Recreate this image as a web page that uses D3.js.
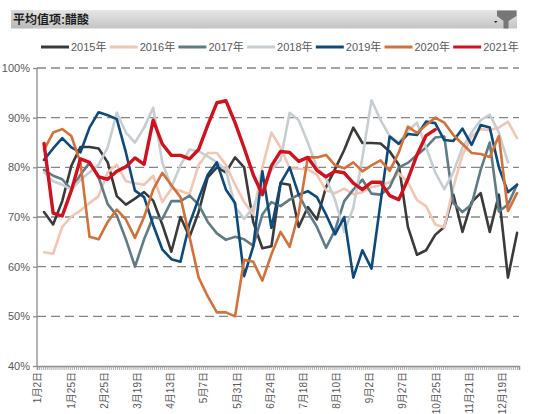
<!DOCTYPE html>
<html>
<head>
<meta charset="utf-8">
<script src="https://cdn.jsdelivr.net/npm/d3@7"></script>
<style>
body { margin: 0; background: #fff; }
svg text { font-family: "Liberation Sans", "Noto Sans CJK SC", sans-serif; }
</style>
</head>
<body>
<svg width="550" height="414"></svg>
<script>
var title = "平均值项:醋酸";
var years = ["2015年", "2016年", "2017年", "2018年", "2019年", "2020年", "2021年"];
var colors = ["#3a3a3a", "#f2c6b3", "#5f7b85", "#c6ced1", "#0c4a7c", "#d4703a", "#d0121e"];
var tickLabels = ["1月2日", "1月25日", "2月25日", "3月19日", "4月13日", "5月7日", "5月31日", "6月24日",
    "7月18日", "8月10日", "9月2日", "9月27日", "10月25日", "11月21日", "12月19日"];
var categoryCount = 247;   // trading days on the category axis
var labelStep = 17;        // one label every 17 categories

// weekly values, %
var s2015 = [71, 68.5, 73.2, 80.3, 84.1, 84.1, 83.8, 81, 74.2, 72.5, 73.7, 75, 73.3,
    68.5, 63, 70, 66, 71, 78, 80, 79, 82, 80, 69, 63.7, 64.1,
    76.8, 76.5, 68, 72, 69.5, 76, 79.7, 83.5, 88, 84.9, 84.9, 84.8, 83.2,
    80.5, 68, 62.4, 63.3, 66.4, 68, 74.5, 67, 73, 74.8, 67, 74.5, 57.8, 66.8];
var s2016 = [62.9, 62.6, 68, 70.1, 71.3, 72.8, 74.2, 79, 80.5, 77.2, 76.8, 76.5, 78.3,
    73, 75.7, 75.3, 74.6, 80.5, 82.9, 82.9, 80.5, 76.5, 73, 70.5, 80, 87,
    84, 79.8, 79.7, 79.6, 78.5, 75.4, 74.8, 75.7, 74.6, 75, 76, 76.4, 77,
    78.8, 77, 73.4, 72.2, 68.5, 67.9, 76, 82.5, 86.2, 87.7, 87.5, 88, 89.2, 85.9];
var s2017 = [79.5, 78.3, 77.6, 75.5, 78.5, 80.9, 78, 72.6, 70.3, 65.5, 60, 65.5, 70,
    69.6, 73.2, 73.2, 74.3, 72.5, 69, 66.7, 65.4, 66, 65.5, 64.2, 70.5, 73,
    72.2, 73.5, 74.5, 71, 68, 63.8, 67.4, 73.2, 75.5, 77.5, 74.7, 74.5, 76,
    80, 80.9, 82.5, 84, 86, 86.2, 72.8, 71, 72.5, 79.5, 85, 71.1, 72.5, 76.5];
var s2018 = [79, 77.2, 76.5, 75.5, 77.5, 79, 80.5, 84, 91, 87, 85, 88, 92,
    81, 76, 80.4, 83.6, 83.2, 82.2, 81, 79.5, 72.1, 69.6, 72, 76, 79.5,
    81.5, 91, 89.5, 85, 80, 77.8, 73.4, 67, 71.8, 82, 93.5, 89.5, 86.3,
    85, 87.3, 89, 84, 79, 75.6, 79, 84, 87, 89.5, 90.6, 87, 81];
var s2019 = [81.5, 83.8, 85.9, 84, 83, 88, 91.1, 90.5, 89.7, 83, 75.3, 74, 68.4,
    63.5, 61.5, 61, 68.7, 73.7, 78.5, 81, 75.5, 72.8, 58.1, 64.1, 79.2, 67.8,
    76.8, 80, 74.5, 75.2, 74, 70.5, 66.5, 70, 57.8, 63.3, 59.6, 73, 86.2,
    84.7, 86.7, 86.5, 89.2, 88.9, 85.5, 85.3, 87.8, 84.5, 88.5, 88, 80, 75, 76.5];
var s2020 = [83.5, 87, 87.7, 86.3, 81, 66, 65.5, 69, 71.5, 69.5, 65.8, 70, 75.5,
    78.9, 76.4, 74, 66, 57.8, 54, 50.8, 50.8, 50, 61.4, 61, 57.2, 62.5,
    67, 64, 70.8, 82, 82, 82.5, 80.4, 79.8, 81, 79.2, 80.4, 81.4, 79.3,
    83, 88.2, 86.9, 88.5, 90, 89, 86.5, 84.7, 82.9, 82.7, 82.1, 86.3, 71.2, 74.8];
var s2021 = [84.8, 70.8, 70.2, 75.3, 81.7, 81, 78.1, 77.6, 79.2, 80.1, 81.9, 80.6, 89.5,
    84.7, 82.4, 82.4, 81.7, 83.6, 88.5, 93, 93.4, 89, 83.9, 78.5, 74.5, 80.3,
    83.2, 83, 81.2, 82, 79.4, 78.1, 79.2, 78.9, 76.8, 75.5, 77, 77, 74.3,
    73.5, 77.6, 82.5, 86.4, 87.6];
var series = [s2015, s2016, s2017, s2018, s2019, s2020, s2021];

var svg = d3.select("svg");
var margin = { top: 68, right: 31, bottom: 48, left: 37 };
var width = 550 - margin.left - margin.right;
var height = 414 - margin.top - margin.bottom;

// header bar with filter button
var grad = svg.append("defs").append("linearGradient")
    .attr("id", "hdr").attr("x1", 0).attr("y1", 0).attr("x2", 0).attr("y2", 1);
grad.append("stop").attr("offset", "0%").attr("stop-color", "#e6e6e6");
grad.append("stop").attr("offset", "100%").attr("stop-color", "#c4c4c4");
svg.append("rect").attr("x", 11).attr("y", 10).attr("width", 506).attr("height", 18.5)
    .attr("fill", "url(#hdr)");
svg.append("rect").attr("x", 11).attr("y", 10).attr("width", 22).attr("height", 18.5)
    .attr("fill", "#000").attr("opacity", 0.05);
svg.append("text").attr("x", 13).attr("y", 23.5)
    .attr("font-size", "12px").attr("font-weight", 600).attr("fill", "#1e1e1e").text(title);
svg.append("path").attr("d", "M494,21L497.5,21L495.75,23Z").attr("fill", "#222");
svg.append("path").attr("d", "M497,10.5L516.5,10.5L516.5,16L508.5,21L508.5,28.5L503.5,28.5L503.5,21L497,16Z")
    .attr("fill", "#767676");

// legend
var legend = svg.append("g").selectAll("g").data(years).enter().append("g")
    .attr("transform", function (d, i) { return "translate(" + (41 + i * 68.7) + ",47)"; });
legend.append("line").attr("x1", 0).attr("x2", 28)
    .attr("stroke", function (d, i) { return colors[i]; })
    .attr("stroke-width", 3);
legend.append("text").attr("x", 30).attr("dy", "0.35em")
    .attr("font-size", "11px").attr("fill", "#595959")
    .text(function (d) { return d; });

var g = svg.append("g").attr("transform", "translate(" + margin.left + "," + margin.top + ")");

var x = d3.scaleLinear().domain([0, categoryCount]).range([0, width]);
var week = d3.scaleLinear().domain([0, 52]).range([x(3.6), x(246)]);
var y = d3.scaleLinear().domain([40, 100]).range([height, 0]);

//dashed gridlines
var yTicks = d3.range(40, 101, 10);
g.append("g").selectAll("line").data(yTicks.filter(function (d) { return d > 40; })).enter()
    .append("line")
    .attr("x1", 0).attr("x2", width)
    .attr("y1", function (d) { return y(d); }).attr("y2", function (d) { return y(d); })
    .attr("stroke", "#858585").attr("stroke-width", 1.3)
    .attr("stroke-dasharray", "9,5");

//y-axis
var yAxis = g.append("g")
    .call(d3.axisLeft(y).tickValues(yTicks).tickSize(4).tickPadding(3)
        .tickFormat(function (d) { return d + "%"; }));
yAxis.select(".domain").attr("stroke", "#8c8c8c").attr("stroke-width", 1.3).attr("d", "M0," + height + "V0");
yAxis.selectAll(".tick line").attr("stroke", "#8c8c8c").attr("stroke-width", 1.3);
yAxis.selectAll("text").attr("fill", "#595959").attr("font-size", "11px")
    .attr("font-family", "Liberation Sans, sans-serif");

//x-axis: every category gets a tick, labels every labelStep
var xAxis = g.append("g").attr("transform", "translate(0," + height + ")")
    .call(d3.axisBottom(x).tickValues(d3.range(0, categoryCount + 1)).tickSize(4).tickFormat(""));
xAxis.select(".domain").attr("stroke", "#8c8c8c").attr("stroke-width", 1.5);
xAxis.selectAll(".tick line").attr("stroke", "#9a9a9a").attr("stroke-width", 0.8);

g.append("g").selectAll("text").data(tickLabels).enter().append("text")
    .attr("transform", function (d, i) {
        return "translate(" + x(i * labelStep + 0.5) + "," + (height + 6) + ") rotate(-90)";
    })
    .attr("text-anchor", "end").attr("dy", "0.35em")
    .attr("font-size", "10px").attr("fill", "#595959")
    .text(function (d) { return d; });

//lines
var line = d3.line()
    .x(function (d, i) { return week(i); })
    .y(function (d) { return y(d); });

g.append("g").selectAll("path").data(series).enter().append("path")
    .attr("fill", "none")
    .attr("stroke", function (d, i) { return colors[i]; })
    .attr("stroke-width", function (d, i) { return i === 6 ? 3.4 : 2.6; })
    .attr("stroke-linejoin", "round")
    .attr("stroke-linecap", "round")
    .attr("d", line);
</script>
</body>
</html>
